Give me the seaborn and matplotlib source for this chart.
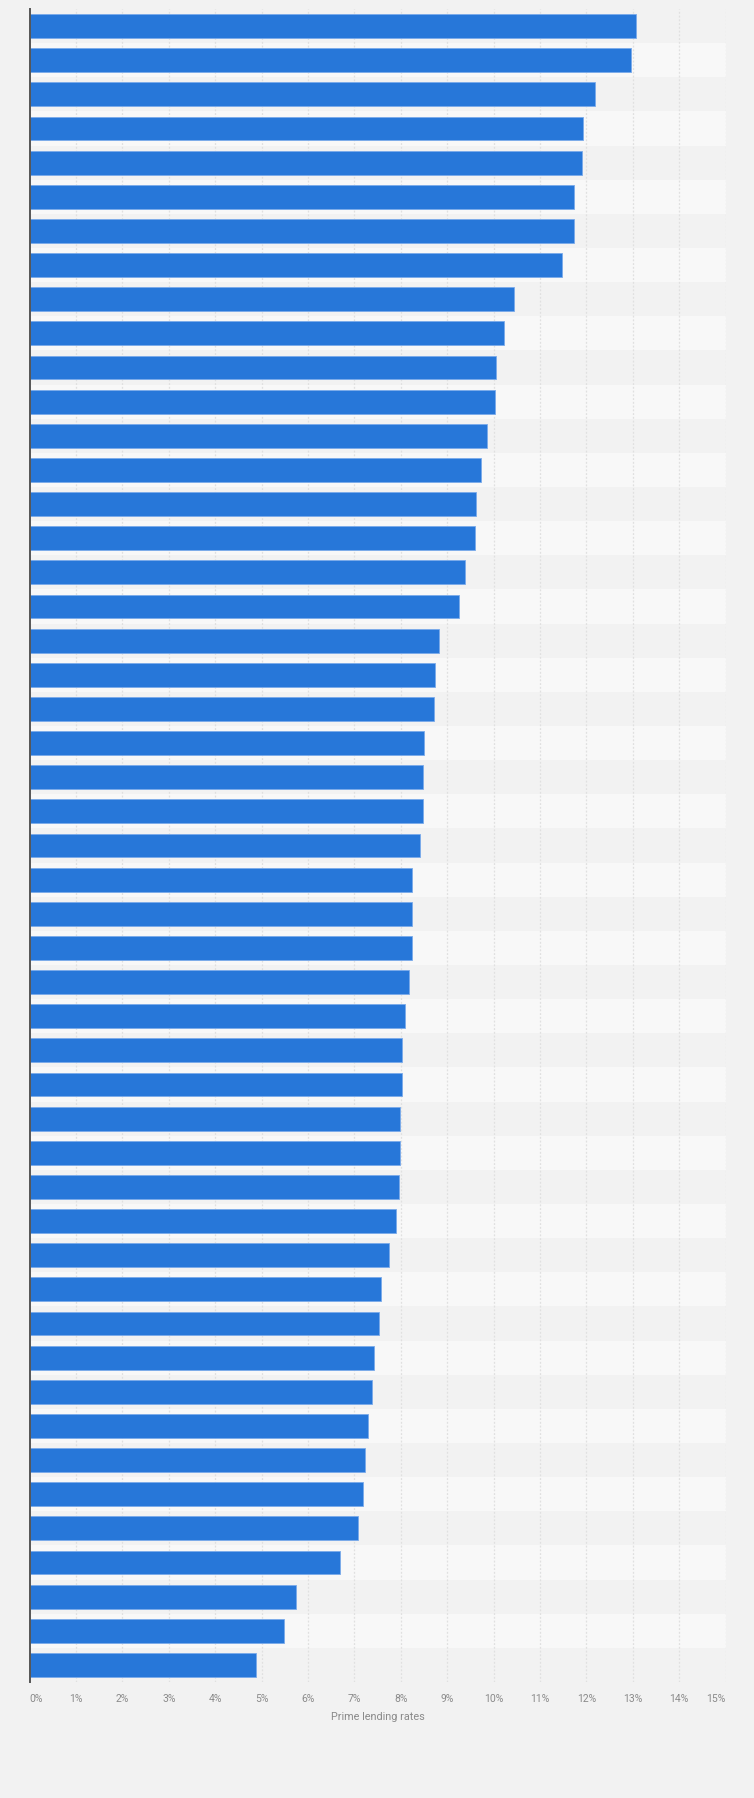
import matplotlib
matplotlib.use("Agg")
import matplotlib.pyplot as plt
import seaborn as sns
import pandas as pd

# ---- data ----
categories = [f"Item {i}" for i in range(1, 50)]
rates = [13.07, 12.96, 12.19, 11.93, 11.90, 11.74, 11.74, 11.48, 10.43, 10.23,
         10.06, 10.04, 9.86, 9.73, 9.63, 9.60, 9.38, 9.26, 8.83, 8.74,
         8.72, 8.50, 8.48, 8.48, 8.42, 8.24, 8.24, 8.24, 8.18, 8.09,
         8.03, 8.03, 7.98, 7.98, 7.97, 7.90, 7.74, 7.57, 7.52, 7.42,
         7.38, 7.29, 7.22, 7.18, 7.07, 6.68, 5.74, 5.48, 4.88]
x_ticks = list(range(0, 16))
x_tick_labels = [f"{t}%" for t in x_ticks]
x_label = "Prime lending rates"

df = pd.DataFrame({"category": categories, "rate": rates})

sns.set_theme(style="white")
plt.rcParams["font.family"] = ["Roboto", "DejaVu Sans"]

W, H = 754, 1799
fig = plt.figure(figsize=(W / 100, H / 100), dpi=100, facecolor="#f2f2f2")
left, right, top, bottom = 29.7, 725.5, 10, 1683
ax = fig.add_axes([left / W, 1 - bottom / H, (right - left) / W, (bottom - top) / H])
ax.set_facecolor("#f2f2f2")

# alternating row bands
for i in range(len(categories)):
    if i % 2 == 1:
        ax.axhspan(i - 0.5, i + 0.5, color="#f8f8f8", zorder=0, lw=0)

# vertical dotted grid
for t in x_ticks[1:]:
    ax.axvline(t, color="#e0e0e0", lw=0.9, ls=(0, (1.5, 1.5)), zorder=1)

sns.barplot(data=df, y="category", x="rate", orient="h", color="#2777d9",
            width=0.7, saturation=1, edgecolor="#7aaaea", linewidth=0.6,
            ax=ax, zorder=2)

ax.set_xlim(0, 15)
ax.set_ylim(len(categories) - 0.5, -0.5)
ax.set_yticks([])
ax.set_ylabel("")
ax.set_xticks(x_ticks)
ax.set_xticklabels(x_tick_labels, color="#8a8a8a", fontsize=7.5)
labels = ax.get_xticklabels()
labels[0].set_horizontalalignment("left")
labels[-1].set_horizontalalignment("right")
ax.tick_params(axis="x", length=0, pad=8)
ax.set_xlabel(x_label, color="#8a8a8a", fontsize=7.8, labelpad=6)

for s in ["top", "right", "bottom"]:
    ax.spines[s].set_visible(False)
ax.spines["left"].set_color("#555555")
ax.spines["left"].set_linewidth(1.4)
ax.spines["left"].set_zorder(5)

fig.savefig("out.png", dpi=100, facecolor=fig.get_facecolor())
